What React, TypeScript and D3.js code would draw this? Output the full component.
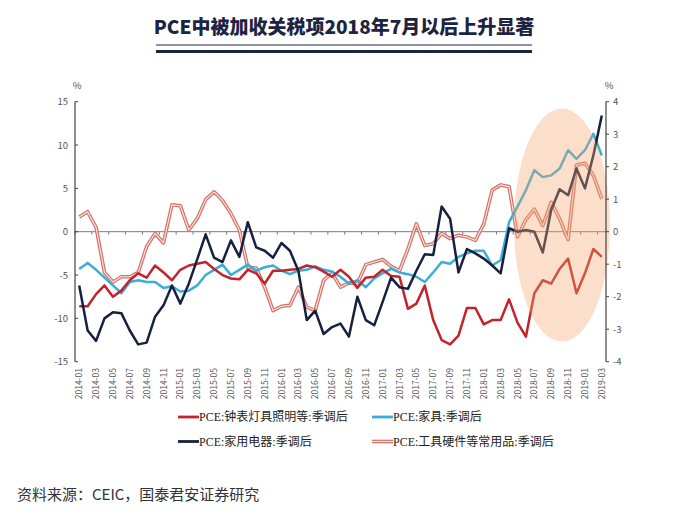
import React from 'react';
import * as d3 from 'd3';

// Categories: monthly, 2014-01 .. 2019-03
const months: string[] = d3.timeMonths(new Date(2014, 0, 1), new Date(2019, 3, 1)).map(d3.timeFormat('%Y-%m'));

// PCE: 钟表灯具照明等: 季调后 (left-axis units)
const lighting: number[] = [
  -8.6, -8.6, -7.2, -6.2, -7.5, -6.8, -5.6, -4.8, -5.3, -3.9, -4.7, -5.6, -4.4,
  -3.9, -3.7, -3.5, -4.3, -5.0, -5.4, -5.5, -4.4, -4.8, -6.0, -4.5, -4.5,
  -4.4, -4.3, -3.9, -4.1, -4.6, -5.2, -4.4, -5.2, -6.5, -5.3, -5.2, -4.4, -5.1,
  -5.2, -8.9, -8.3, -6.2, -10.2, -12.5, -13.0, -12.0, -8.8, -8.8, -10.7, -10.2, -10.2,
  -7.8, -10.5, -12.1, -7.1, -5.6, -6.0, -4.3, -3.1, -7.1, -4.8, -2.0, -2.9,
];
// PCE: 家具: 季调后
const furniture: number[] = [
  -4.3, -3.6, -4.4, -5.3, -6.2, -7.1, -5.8, -5.6, -5.8, -5.8, -6.5, -6.3, -6.9,
  -6.8, -6.2, -5.0, -4.4, -3.8, -5.0, -4.4, -3.8, -4.5, -4.1, -3.9, -4.5,
  -4.9, -4.5, -4.4, -4.0, -4.4, -4.6, -5.2, -6.0, -5.6, -6.4, -5.4, -4.8, -4.3,
  -4.7, -4.9, -5.2, -5.8, -4.7, -3.5, -3.7, -2.9, -2.5, -2.2, -2.2, -3.9, -3.3,
  1.1, 2.9, 4.8, 7.1, 6.3, 6.5, 7.3, 9.4, 8.4, 9.4, 11.3, 8.8,
];
// PCE: 家用电器: 季调后
const appliances: number[] = [
  -6.2, -11.4, -12.6, -10.0, -9.3, -9.4, -11.4, -13.0, -12.8, -9.8, -8.5, -6.2, -8.3,
  -6.0, -3.2, -0.3, -3.0, -3.5, -1.0, -2.9, 1.1, -1.8, -2.2, -3.0, -1.3,
  -2.2, -4.5, -10.2, -9.1, -11.8, -11.0, -10.6, -12.1, -7.5, -10.2, -10.8, -8.1, -5.3,
  -6.4, -6.6, -4.5, -2.6, -2.7, 2.9, 1.5, -4.7, -2.0, -2.5, -3.1, -3.9, -4.8,
  0.4, 0.0, 0.2, 0.0, -2.4, 2.5, 4.9, 4.2, 7.3, 5.0, 8.8, 13.4,
];
// PCE: 工具硬件等常用品: 季调后
const tools: number[] = [
  1.7, 2.3, 0.5, -4.7, -5.8, -5.2, -5.2, -4.7, -1.7, -0.2, -1.3, 3.1, 3.0,
  0.2, 1.5, 3.7, 4.6, 3.6, 2.1, 0.2, -4.1, -4.2, -6.4, -9.1, -8.6,
  -8.5, -6.4, -8.7, -9.1, -5.6, -4.8, -6.4, -5.9, -6.0, -3.8, -3.5, -3.2, -4.0,
  -4.5, -2.0, 0.9, -1.6, -1.4, -0.2, -0.8, -0.4, -0.6, -1.0, 0.9, 4.8, 5.4,
  5.2, -0.6, 1.4, 2.6, 0.7, 3.4, 1.5, -0.9, 7.7, 7.9, 6.5, 3.8,
];

const leftTicks: number[] = [15, 10, 5, 0, -5, -10, -15];
const rightTicks: number[] = [4, 3, 2, 1, 0, -1, -2, -3, -4];

const title = 'PCE中被加收关税项2018年7月以后上升显著';
const source = '资料来源：CEIC，国泰君安证券研究';
const legendNames = ['PCE:钟表灯具照明等:季调后', 'PCE:家具:季调后', 'PCE:家用电器:季调后', 'PCE:工具硬件等常用品:季调后'];

const RED = '#c3232b';
const BLUE = '#3badd6';
const NAVY = '#16213f';
const PINK = '#d4726b';
const PINK_IN = '#fbe8e4';

export default function App() {
  const W = 678, H = 523;
  const x0 = 75, x1 = 606, yTop = 101.7, yBot = 361.7;
  const x = d3.scalePoint<string>().domain(months).range([x0, x1]).padding(0.5);
  const step = x.step();
  const yL = d3.scaleLinear().domain([-15, 15]).range([yBot, yTop]);
  const yR = d3.scaleLinear().domain([-4, 4]).range([yBot, yTop]);
  const line = d3.line<number>().x((_, i) => x(months[i]) as number).y((d) => yL(d));

  const sans = '"Noto Sans CJK SC", "Noto Sans", sans-serif';
  const serif = '"Liberation Serif", "Noto Sans CJK SC", serif';
  const labelIdx = months.map((_, i) => i).filter((i) => i % 2 === 0);

  const legend = [
    { name: legendNames[0], color: RED, lx: 178, ly: 417, pink: false },
    { name: legendNames[1], color: BLUE, lx: 372, ly: 417, pink: false },
    { name: legendNames[2], color: NAVY, lx: 178, ly: 441.5, pink: false },
    { name: legendNames[3], color: PINK, lx: 372, ly: 441.5, pink: true },
  ];

  return (
    <svg width={W} height={H} style={{ position: 'absolute', left: 0, top: 0, background: '#fff' }} xmlns="http://www.w3.org/2000/svg">
      <rect width={W} height={H} fill="#fff" />
      {/* title */}
      <text x={344} y={34} textAnchor="middle" fontFamily={sans} fontWeight={900} fontSize={19} fill="#1c2442">{title}</text>
      <line x1={156} x2={532} y1={45} y2={45} stroke="#1c2442" strokeWidth={1} />
      <line x1={156} x2={532} y1={51.5} y2={51.5} stroke="#1c2442" strokeWidth={3} />

      {/* x axis at zero */}
      <line x1={x0} x2={x1} y1={yL(0)} y2={yL(0)} stroke="#7a7a7a" strokeWidth={1} />
      {d3.range(0, months.length + 1, 2).map((k) => (
        <line key={'xt' + k} x1={x0 + k * step} x2={x0 + k * step} y1={yL(0)} y2={yL(0) + 3} stroke="#7a7a7a" strokeWidth={1} />
      ))}
      {labelIdx.map((i) => (
        <text key={'xl' + i} transform={`translate(${(x(months[i]) as number) + 3},368) rotate(-90)`} textAnchor="end" fontFamily={sans} fontSize={8.5} fill="#555">{months[i]}</text>
      ))}

      {/* left axis */}
      <line x1={x0} x2={x0} y1={yTop} y2={yBot} stroke="#444" strokeWidth={1.2} />
      {leftTicks.map((t) => (
        <g key={'lt' + t}>
          <line x1={x0} x2={x0 + 3} y1={yL(t)} y2={yL(t)} stroke="#444" strokeWidth={1} />
          <text x={68} y={yL(t) + 3.5} textAnchor="end" fontFamily={sans} fontSize={9.5} fill="#555">{t}</text>
        </g>
      ))}
      <text x={77} y={89} textAnchor="middle" fontFamily={sans} fontSize={9.5} fill="#555">%</text>

      {/* series */}
      <path d={line(tools) as string} fill="none" stroke={PINK} strokeWidth={3.6} strokeLinejoin="round" />
      <path d={line(tools) as string} fill="none" stroke={PINK_IN} strokeWidth={1.1} strokeLinejoin="round" />
      <path d={line(furniture) as string} fill="none" stroke={BLUE} strokeWidth={2.5} strokeLinejoin="round" />
      <path d={line(lighting) as string} fill="none" stroke={RED} strokeWidth={2.5} strokeLinejoin="round" />
      <path d={line(appliances) as string} fill="none" stroke={NAVY} strokeWidth={2.5} strokeLinejoin="round" />

      {/* highlight */}
      <ellipse cx={562} cy={225} rx={48} ry={116.5} fill="#f4a670" opacity={0.36} />

      {/* right axis */}
      <line x1={x1} x2={x1} y1={yTop} y2={yBot} stroke="#444" strokeWidth={1.2} />
      {rightTicks.map((t) => (
        <g key={'rt' + t}>
          <line x1={x1} x2={x1 + 3} y1={yR(t)} y2={yR(t)} stroke="#444" strokeWidth={1} />
          <text x={613} y={yR(t) + 3.5} textAnchor="start" fontFamily={sans} fontSize={9.5} fill="#555">{t}</text>
        </g>
      ))}
      <text x={609} y={89} textAnchor="middle" fontFamily={sans} fontSize={9.5} fill="#555">%</text>

      {/* legend */}
      {legend.map((l) => (
        <g key={l.name}>
          <line x1={l.lx} x2={l.lx + 21} y1={l.ly} y2={l.ly} stroke={l.color} strokeWidth={l.pink ? 3.6 : 2.8} />
          {l.pink && <line x1={l.lx} x2={l.lx + 21} y1={l.ly} y2={l.ly} stroke={PINK_IN} strokeWidth={1.1} />}
          <text x={l.lx + 21} y={l.ly + 4.3} fontFamily={serif} fontSize={12} fill="#222">{l.name}</text>
        </g>
      ))}

      {/* source */}
      <text x={17} y={500} fontFamily={sans} fontSize={15} fill="#333">{source}</text>
    </svg>
  );
}
